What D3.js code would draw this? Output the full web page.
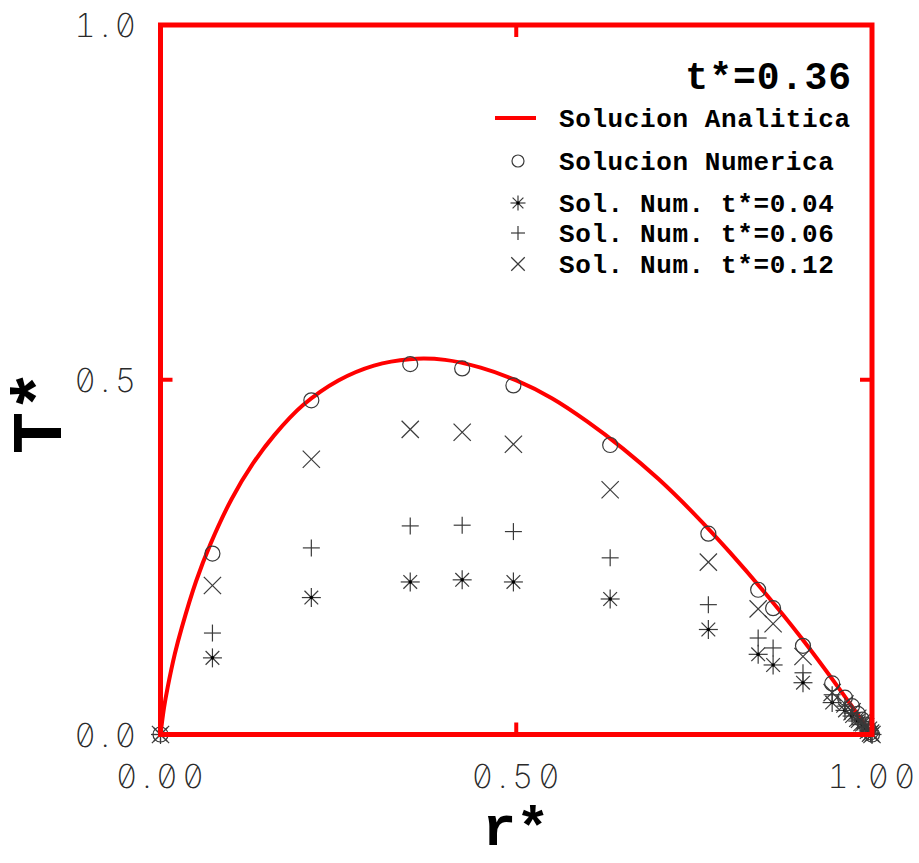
<!DOCTYPE html>
<html>
<head>
<meta charset="utf-8">
<script src="https://cdn.jsdelivr.net/npm/d3@7"></script>
<style>
  html, body { margin: 0; padding: 0; background: #fff; }
  svg { display: block; }
  .tick-lbl { font-family: Inter, "DejaVu Sans", sans-serif; font-weight: 200; font-feature-settings: "zero" 1, "tnum" 1; fill: #2a2a2a; }
  .bold-mono { font-family: "Liberation Mono", "DejaVu Sans Mono", monospace; font-weight: bold; fill: #000; }
</style>
</head>
<body>
<svg id="chart" width="919" height="863"></svg>
<script>
// Radial grid nodes (r*) shared by all numerical series
const rNodes = [0, 0.073, 0.212, 0.351, 0.424, 0.496, 0.632, 0.770, 0.840, 0.861, 0.903, 0.944,
                0.962, 0.972, 0.980, 0.986, 0.991, 0.995, 0.998, 1.0];

// Numerical solution at t*=0.36
const numT036 = [0, 0.255, 0.471, 0.522, 0.516, 0.492, 0.408, 0.283, 0.204, 0.178, 0.125, 0.072,
                 0.052, 0.040, 0.029, 0.021, 0.014, 0.008, 0.003, 0];
// Numerical solution at t*=0.04
const numT004 = [0, 0.108, 0.193, 0.215, 0.218, 0.215, 0.191, 0.148, 0.113, 0.098, 0.073, 0.045,
                 0.034, 0.026, 0.019, 0.014, 0.009, 0.005, 0.002, 0];
// Numerical solution at t*=0.06
const numT006 = [0, 0.143, 0.263, 0.294, 0.295, 0.286, 0.249, 0.183, 0.136, 0.122, 0.087, 0.056,
                 0.040, 0.030, 0.022, 0.016, 0.010, 0.006, 0.002, 0];
// Numerical solution at t*=0.12
const numT012 = [0, 0.210, 0.388, 0.430, 0.426, 0.409, 0.345, 0.243, 0.177, 0.156, 0.110, 0.059,
                 0.043, 0.032, 0.023, 0.017, 0.011, 0.006, 0.002, 0];

// Analytic solution samples
const curveR = [0, 0.005, 0.01, 0.02, 0.03, 0.05, 0.07, 0.10, 0.13, 0.16, 0.20, 0.25, 0.30, 0.35,
                0.40, 0.45, 0.50, 0.55, 0.60, 0.65, 0.70, 0.75, 0.80, 0.85, 0.90, 0.95, 0.98, 1.0];
const curveT = [0, 0.038, 0.066, 0.113, 0.151, 0.216, 0.268, 0.332, 0.382, 0.422, 0.464, 0.499, 0.520, 0.529,
                0.528, 0.517, 0.499, 0.474, 0.441, 0.403, 0.360, 0.311, 0.257, 0.199, 0.137, 0.070, 0.028, 0];

const xTickVals = [0, 0.5, 1];
const xTickLabels = ["0.00", "0.50", "1.00"];
const yTickVals = [0, 0.5, 1];
const yTickLabels = ["0.0", "0.5", "1.0"];

const legendTitle = "t*=0.36";
const legendLabels = ["Solucion Analitica", "Solucion Numerica", "Sol. Num. t*=0.04", "Sol. Num. t*=0.06", "Sol. Num. t*=0.12"];
const xTitle = "r*";
const yTitle = "T*";

const svg = d3.select("#chart");
const frame = { left: 160.5, right: 872, top: 25, bottom: 734.5 };
const RED = "#ff0000";
const INK = "#3a3a3a";

const x = d3.scaleLinear().domain([0, 1]).range([frame.left, frame.right]);
const y = d3.scaleLinear().domain([0, 1]).range([frame.bottom, frame.top]);

// Marker shapes
function drawMarker(g, kind, cx, cy, h) {
  const m = g.append("g").attr("transform", `translate(${cx},${cy})`)
    .attr("stroke", INK).attr("stroke-width", 1.2).attr("fill", "none");
  if (kind === "circle") {
    m.append("circle").attr("r", h);
  } else if (kind === "plus") {
    m.append("line").attr("x1", -h).attr("x2", h).attr("y1", 0).attr("y2", 0);
    m.append("line").attr("x1", 0).attr("x2", 0).attr("y1", -h).attr("y2", h);
  } else if (kind === "cross") {
    const d = h * 0.75;
    m.append("line").attr("x1", -d).attr("x2", d).attr("y1", -d).attr("y2", d);
    m.append("line").attr("x1", -d).attr("x2", d).attr("y1", d).attr("y2", -d);
  } else if (kind === "star") {
    const d = h * 0.72;
    m.append("line").attr("x1", -h).attr("x2", h).attr("y1", 0).attr("y2", 0);
    m.append("line").attr("x1", 0).attr("x2", 0).attr("y1", -h).attr("y2", h);
    m.append("line").attr("x1", -d).attr("x2", d).attr("y1", -d).attr("y2", d);
    m.append("line").attr("x1", -d).attr("x2", d).attr("y1", d).attr("y2", -d);
    m.append("circle").attr("r", 1.8).attr("fill", "#000").attr("stroke", "none");
  }
}

// Analytic curve
const line = d3.line().x((d, i) => x(curveR[i])).y(d => y(d)).curve(d3.curveCatmullRom.alpha(0.5));
svg.append("path").datum(curveT).attr("d", line)
  .attr("fill", "none").attr("stroke", RED).attr("stroke-width", 4);

// Numerical series markers
const seriesDefs = [
  { vals: numT036, kind: "circle", size: 7.5 },
  { vals: numT004, kind: "star", size: 9.5 },
  { vals: numT006, kind: "plus", size: 8.5 },
  { vals: numT012, kind: "cross", size: 11.5 }
];
const markG = svg.append("g");
seriesDefs.forEach(s => {
  s.vals.forEach((v, i) => drawMarker(markG, s.kind, x(rNodes[i]), y(v), s.size));
});

// Frame
svg.append("rect")
  .attr("x", frame.left).attr("y", frame.top)
  .attr("width", frame.right - frame.left).attr("height", frame.bottom - frame.top)
  .attr("fill", "none").attr("stroke", RED).attr("stroke-width", 5);

// Inward ticks on all four sides
const tickLen = 12;
const axG = svg.append("g").attr("stroke", RED).attr("stroke-width", 4);
xTickVals.forEach(v => {
  axG.append("line").attr("x1", x(v)).attr("x2", x(v)).attr("y1", frame.bottom).attr("y2", frame.bottom - tickLen);
  axG.append("line").attr("x1", x(v)).attr("x2", x(v)).attr("y1", frame.top).attr("y2", frame.top + tickLen);
});
yTickVals.forEach(v => {
  axG.append("line").attr("x1", frame.left).attr("x2", frame.left + tickLen).attr("y1", y(v)).attr("y2", y(v));
  axG.append("line").attr("x1", frame.right).attr("x2", frame.right - tickLen).attr("y1", y(v)).attr("y2", y(v));
});

// Tick labels
xTickVals.forEach((v, i) => {
  svg.append("text").attr("class", "tick-lbl")
    .attr("x", x(v) + 2).attr("y", 788)
    .attr("text-anchor", "middle")
    .attr("font-size", 33).attr("letter-spacing", 5)
    .text(xTickLabels[i]);
});
yTickVals.forEach((v, i) => {
  svg.append("text").attr("class", "tick-lbl")
    .attr("x", 141).attr("y", y(v) + 12)
    .attr("text-anchor", "end")
    .attr("font-size", 33).attr("letter-spacing", 5)
    .text(yTickLabels[i]);
});

// Axis titles
svg.append("text").attr("class", "bold-mono")
  .attr("x", 516).attr("y", 845).attr("text-anchor", "middle")
  .attr("font-size", 56).text(xTitle);
svg.append("text").attr("class", "bold-mono")
  .attr("transform", "translate(61,412) rotate(-90)")
  .attr("text-anchor", "middle")
  .attr("font-size", 70).text(yTitle);

// Legend
svg.append("text").attr("class", "bold-mono")
  .attr("x", 852).attr("y", 89).attr("text-anchor", "end")
  .attr("font-size", 38).attr("letter-spacing", 1)
  .text(legendTitle);

const legRows = [118, 161, 203, 233, 264];
const legKinds = ["line", "circle", "star", "plus", "cross"];
const legSizes = [0, 6, 7.5, 7, 9];
legRows.forEach((ry, i) => {
  if (legKinds[i] === "line") {
    svg.append("line").attr("x1", 495).attr("x2", 536).attr("y1", ry).attr("y2", ry)
      .attr("stroke", RED).attr("stroke-width", 4);
  } else {
    drawMarker(svg, legKinds[i], 518, ry, legSizes[i]);
  }
  svg.append("text").attr("class", "bold-mono")
    .attr("x", 559).attr("y", ry + 9)
    .attr("font-size", 26).attr("letter-spacing", 0.6)
    .text(legendLabels[i]);
});
</script>
</body>
</html>
